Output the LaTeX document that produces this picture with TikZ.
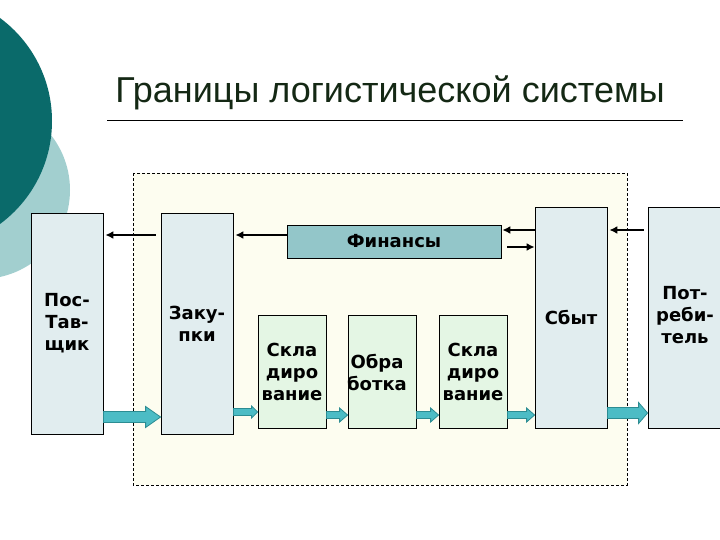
\documentclass[tikz,border=0pt]{standalone}
\usepackage{fontspec}
\setmainfont{Liberation Sans}
\newfontfamily\dvs{DejaVu Sans}
\usetikzlibrary{calc,arrows.meta}
\definecolor{darkc}{HTML}{0A6A6A}
\definecolor{lightc}{HTML}{A2CFCF}
\definecolor{titlec}{HTML}{142814}
\definecolor{framec}{HTML}{FDFDF0}
\definecolor{bigc}{HTML}{E1EDEF}
\definecolor{smallc}{HTML}{E4F6E4}
\definecolor{finc}{HTML}{93C6C9}
\definecolor{arrc}{HTML}{4CBCC5}
\definecolor{arrb}{HTML}{2C8C92}
\tikzset{
  lbl/.style={font=\dvs\bfseries\fontsize{18}{22}\selectfont, align=center},
  bigbox/.style={lbl, draw=black, line width=0.8pt, fill=bigc, minimum width=72, minimum height=221, inner sep=0pt},
  smallbox/.style={lbl, draw=black, line width=0.8pt, fill=smallc, minimum width=68, minimum height=113, inner sep=0pt},
  finbox/.style={lbl, draw=black, line width=0.8pt, fill=finc, minimum width=214, minimum height=33, inner sep=0pt},
  flow/.style={line width=2.4pt, -{Latex[length=8pt,width=8pt]}},
  blockarr/.style={fill=arrc, draw=arrb, line width=0.8pt, line join=miter}
}
\newcommand\blk[6]{%
  \filldraw[blockarr] (#1.east |- 0,#3-#4) -- ($(#2.west |- 0,#3-#4)+(-#6,0)$) -- ($(#2.west |- 0,#3-#5)+(-#6,0)$) -- (#2.west |- 0,#3) -- ($(#2.west |- 0,#3+#5)+(-#6,0)$) -- ($(#2.west |- 0,#3+#4)+(-#6,0)$) -- (#1.east |- 0,#3+#4) -- cycle;}
\begin{document}
\begin{tikzpicture}[x=1pt,y=-1pt]
\useasboundingbox (0,0) rectangle (720,540);
\begin{scope}
\clip (0,0) rectangle (720,540);
\fill[lightc] (-19,190) circle (89);
\fill[darkc] (-76,121) circle (128);
\end{scope}
\node[anchor=base, text=titlec, font=\fontsize{36}{40}\selectfont] (title) at (390,103) {Границы логистической системы};
\draw[line width=0.8pt] (107,120) -- (683,120);
\draw[dash pattern=on 3pt off 2pt, line width=0.7pt, fill=framec] (133,173) rectangle (627,485);
\node[bigbox] (post) at (67,323.5) {Пос-\\Тав-\\щик};
\node[bigbox] (zak) at (197,323.5) {Заку-\\пки};
\node[finbox] (fin) at (394,241.5) {Финансы};
\node[bigbox] (sbyt) at (571,317.5) {Сбыт};
\node[bigbox, minimum width=80] (potr) at (688,317.5) {};
\node[lbl] (potrt) at (685,315) {Пот-\\реби-\\тель};
\node[smallbox] (skl1) at (292,371.5) {Скла\\диро\\вание};
\node[smallbox] (obr) at (382,371.5) {};
\node[lbl] (obrt) at (377,372) {Обра\\ботка};
\node[smallbox] (skl2) at (473,371.5) {Скла\\диро\\вание};
% black arrows
\draw[flow, shorten <=5pt, shorten >=2pt] (zak.west |- 0,235) -- (post.east |- 0,235);
\draw[flow, shorten >=2pt] (fin.west |- 0,235) -- (zak.east |- 0,235);
\draw[flow, shorten >=1pt] (sbyt.west |- 0,230) -- (fin.east |- 0,230);
\draw[flow, shorten <=6pt] (fin.east |- 0,247) -- (sbyt.west |- 0,247);
\draw[flow, shorten <=4pt, shorten >=2pt] (potr.west |- 0,230) -- (sbyt.east |- 0,230);
% block arrows
\blk{post}{zak}{417}{5.5}{10.5}{15}
\blk{zak}{skl1}{412}{3.5}{6}{6}
\blk{skl1}{obr}{415}{3.5}{7}{8}
\blk{obr}{skl2}{415}{3.5}{7}{8}
\blk{skl2}{sbyt}{415}{3.5}{7}{8}
\blk{sbyt}{potr}{413}{5.5}{10.5}{9}
\end{tikzpicture}
\end{document}
